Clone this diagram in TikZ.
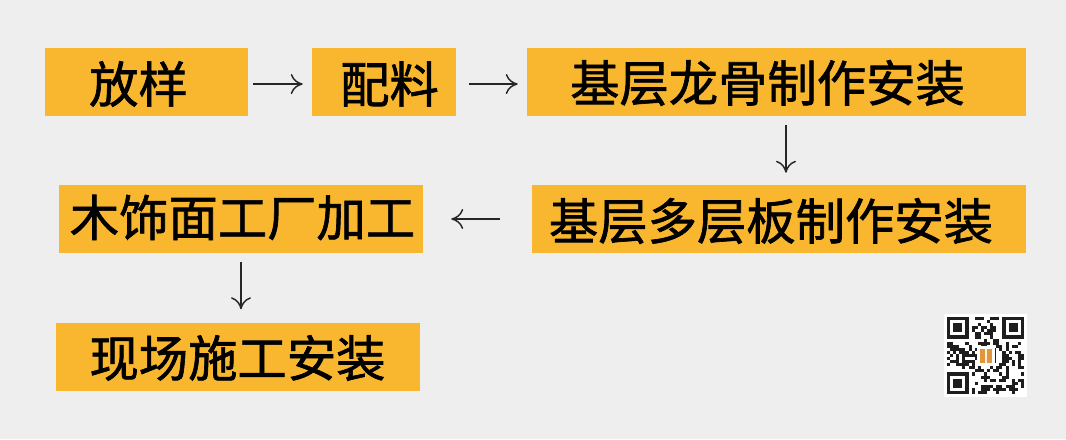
\documentclass[tikz,border=0pt]{standalone}
\usepackage{fontspec}
\newfontfamily\cjk[FakeBold=1.3]{Noto Sans CJK SC}
\usetikzlibrary{arrows.meta}
\definecolor{bgc}{RGB}{238,238,238}
\definecolor{boxc}{RGB}{249,183,47}
\definecolor{qrc}{RGB}{30,30,30}
\definecolor{logoc}{RGB}{226,150,60}
\tikzset{
  box/.style={rectangle, fill=boxc, draw=none, inner sep=0pt, minimum height=51pt},
  lbl/.style={inner sep=0pt, font=\cjk\fontsize{37}{40}\selectfont, text=black},
  arr/.style={-{To[length=9pt,width=15pt]}, line width=1.1pt, draw=black!85}
}
\begin{document}
\begin{tikzpicture}[x=0.75pt,y=-0.75pt]
\useasboundingbox (0,0) rectangle (1066,439);
\fill[bgc] (0,0) rectangle (1066,439);
% boxes
\node[box, minimum width=152.25pt] (b1) at (146.5,81.5) {};
\node[box, minimum width=108pt]    (b2) at (384,81.5) {};
\node[box, minimum width=374.25pt] (b3) at (776.5,81.5) {};
\node[box, minimum width=370.5pt]  (b4) at (779,219) {};
\node[box, minimum width=273pt]    (b5) at (241,219) {};
\node[box, minimum width=273pt]    (b6) at (238,356.5) {};
% labels
\node[lbl] (t1) at (138.5,84) {放样};
\node[lbl] (t2) at (389.5,84) {配料};
\node[lbl] (t3) at (767.5,83) {基层龙骨制作安装};
\node[lbl] (t4) at (771,221) {基层多层板制作安装};
\node[lbl] (t5) at (242.5,217.5) {木饰面工厂加工};
\node[lbl] (t6) at (237.5,358) {现场施工安装};
% arrows
\draw[arr, shorten <=3.75pt, shorten >=6.75pt] ([yshift=-1.9pt]b1.east) -- ([yshift=-1.9pt]b2.west);
\draw[arr, shorten <=9.75pt, shorten >=6.75pt] ([yshift=-1.9pt]b2.east) -- ([yshift=-1.9pt]b3.west);
\draw[arr, shorten <=6.75pt, shorten >=9pt] ([xshift=7.1pt]b3.south) -- ([xshift=7.1pt]b3.south |- b4.north);
\draw[arr, shorten <=24pt, shorten >=21pt] (b4.west) -- (b5.east);
\draw[arr, shorten <=6.75pt, shorten >=9.75pt] (b5.south) -- (b5.south |- b6.north);
% QR code (approximation)
\fill[white] (944,314) rectangle (1027,397);
\pgfmathsetseed{12345}
\foreach \i in {0,...,24}{
  \foreach \j in {0,...,24}{
    \pgfmathtruncatemacro\qs{(\i<8 && \j<8) || (\i>16 && \j<8) || (\i<8 && \j>16) || (\i>9 && \i<15 && \j>9 && \j<15)}
    \pgfmathrandominteger{\qr}{0}{1}
    \ifnum\qs=0
      \ifnum\qr=1
        \fill[qrc] ({947+\i*3.08},{317+\j*3.08}) rectangle ++(3.08,3.08);
      \fi
    \fi
  }
}
\foreach \ox/\oy in {0/0,18/0,0/18}{
  \fill[qrc] ({947+\ox*3.08},{317+\oy*3.08}) rectangle ++(21.56,21.56);
  \fill[white] ({947+(\ox+1)*3.08},{317+(\oy+1)*3.08}) rectangle ++(15.4,15.4);
  \fill[qrc] ({947+(\ox+2)*3.08},{317+(\oy+2)*3.08}) rectangle ++(9.24,9.24);
}
\fill[white] (977,346) rectangle (995,366);
\fill[logoc] (980,349) rectangle (992,363);
\fill[white!85!logoc] (985,349) rectangle (987,363);
\end{tikzpicture}
\end{document}
